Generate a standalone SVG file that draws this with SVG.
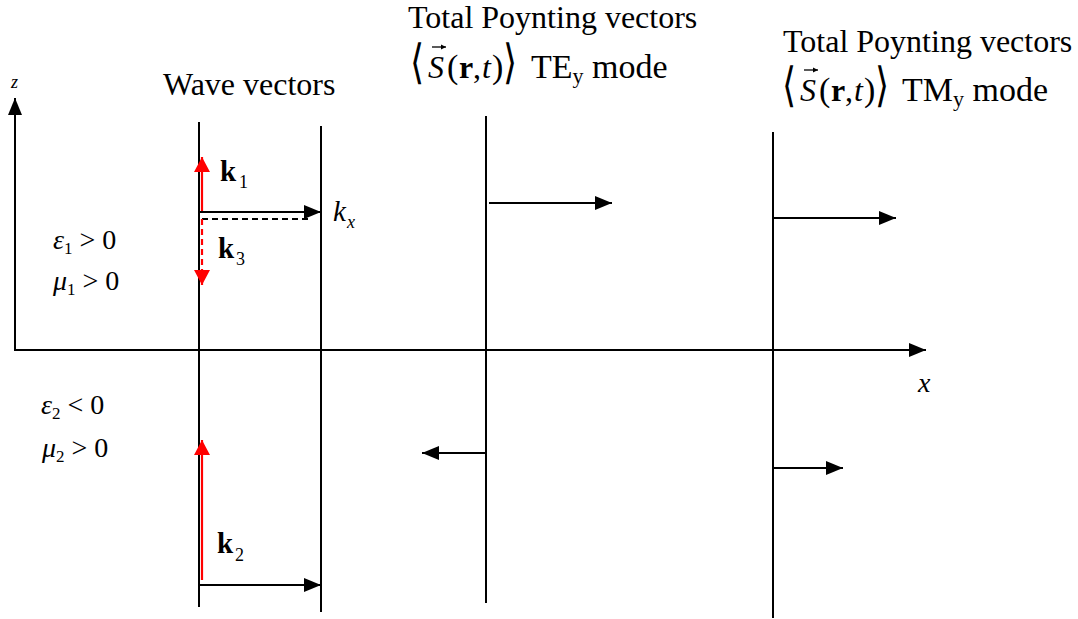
<svg xmlns="http://www.w3.org/2000/svg" width="1078" height="619" viewBox="0 0 1078 619">
<style>
.t{font-family:"Liberation Serif","Times New Roman",serif;fill:#000}
.i{font-style:italic}
.b{font-weight:bold}
.br{font-family:"DejaVu Sans",sans-serif;font-weight:200;fill:#000}
.ln{stroke:#000;stroke-width:2;fill:none}
.rd{stroke:#f00;stroke-width:2.2;fill:none}
</style>
<defs>
<marker id="ab" markerUnits="userSpaceOnUse" markerWidth="18" markerHeight="16" viewBox="0 0 18 16" refX="17" refY="8" orient="auto">
<path d="M0,1 L17,8 L0,15 Z" fill="#000"/>
</marker>
<marker id="ar" markerUnits="userSpaceOnUse" markerWidth="16" markerHeight="18" viewBox="0 0 16 18" refX="15" refY="9" orient="auto">
<path d="M0,1 L15,9 L0,17 Z" fill="#f00"/>
</marker>
<marker id="av" markerUnits="userSpaceOnUse" markerWidth="6" markerHeight="6" viewBox="0 0 6 6" refX="5" refY="3" orient="auto">
<path d="M0,0.5 L5,3 L0,5.5 Z" fill="#000"/>
</marker>
</defs>

<g id="axes">
<line class="ln" x1="15" y1="351" x2="15" y2="98" marker-end="url(#ab)"/>
<line class="ln" x1="14" y1="350" x2="926" y2="350" marker-end="url(#ab)"/>
<text class="t i" x="11" y="88" font-size="18">z</text>
<text class="t i" x="918" y="392" font-size="28">x</text>
</g>

<g id="media-labels">
<text class="t" x="53" y="249" font-size="28"><tspan class="i">ε</tspan><tspan font-size="17" dy="5">1</tspan><tspan dy="-5"> &gt; 0</tspan></text>
<text class="t" x="53" y="290" font-size="28"><tspan class="i">μ</tspan><tspan font-size="17" dy="5">1</tspan><tspan dy="-5"> &gt; 0</tspan></text>
<text class="t" x="41" y="414" font-size="28"><tspan class="i">ε</tspan><tspan font-size="17" dy="5">2</tspan><tspan dy="-5"> &lt; 0</tspan></text>
<text class="t" x="42" y="457" font-size="28"><tspan class="i">μ</tspan><tspan font-size="17" dy="5">2</tspan><tspan dy="-5"> &gt; 0</tspan></text>
</g>

<g id="wave-vectors">
<text class="t" x="163" y="95" font-size="32">Wave vectors</text>
<line class="ln" x1="199" y1="122" x2="199" y2="607"/>
<line class="ln" x1="321" y1="126" x2="321" y2="612"/>
<text class="t b" x="220" y="181" font-size="29">k</text>
<text class="t" x="239" y="188" font-size="18">1</text>
<text class="t b" x="218" y="258" font-size="29">k</text>
<text class="t" x="236" y="265" font-size="18">3</text>
<text class="t i" x="333" y="221" font-size="29">k</text>
<text class="t i" x="347" y="228" font-size="18">x</text>
<text class="t b" x="217" y="553" font-size="29">k</text>
<text class="t" x="235" y="561" font-size="18">2</text>
</g>

<g id="te-mode">
<text class="t" x="408" y="28" font-size="32">Total Poynting vectors</text>
<text class="br" font-size="36" transform="translate(410,78) scale(1,1.3)">⟨</text>
<text class="t i" x="428" y="78" font-size="32">S</text>
<line x1="432" y1="47" x2="446" y2="47" stroke="#000" stroke-width="1.3" marker-end="url(#av)"/>
<text class="t" x="447" y="78" font-size="34">(</text>
<text class="t b" x="459" y="78" font-size="32">r</text>
<text class="t" x="473" y="78" font-size="32">,</text>
<text class="t i" x="482" y="78" font-size="32">t</text>
<text class="t" x="492" y="78" font-size="34">)</text>
<text class="br" font-size="36" transform="translate(503,78) scale(1,1.3)">⟩</text>
<text class="t" x="531" y="78" font-size="34">TE<tspan font-size="22" dy="5">y</tspan><tspan dy="-5"> mode</tspan></text>
<line class="ln" x1="486" y1="116" x2="486" y2="603"/>
</g>

<g id="tm-mode">
<text class="t" x="783" y="52" font-size="32">Total Poynting vectors</text>
<text class="br" font-size="36" transform="translate(782,101) scale(1,1.3)">⟨</text>
<text class="t i" x="800" y="101" font-size="32">S</text>
<line x1="804" y1="70" x2="818" y2="70" stroke="#000" stroke-width="1.3" marker-end="url(#av)"/>
<text class="t" x="819" y="101" font-size="34">(</text>
<text class="t b" x="831" y="101" font-size="32">r</text>
<text class="t" x="845" y="101" font-size="32">,</text>
<text class="t i" x="854" y="101" font-size="32">t</text>
<text class="t" x="864" y="101" font-size="34">)</text>
<text class="br" font-size="36" transform="translate(875,101) scale(1,1.3)">⟩</text>
<text class="t" x="902" y="101" font-size="34">TM<tspan font-size="22" dy="5">y</tspan><tspan dy="-5"> mode</tspan></text>
<line class="ln" x1="773" y1="132" x2="773" y2="618"/>
</g>

<g id="connectors">
<line class="rd" x1="202" y1="212" x2="202" y2="157" marker-end="url(#ar)"/>
<line class="ln" x1="199" y1="212" x2="321" y2="212" marker-end="url(#ab)"/>
<line class="ln" x1="202" y1="219" x2="312" y2="219" stroke-dasharray="6,4"/>
<line class="rd" x1="202" y1="219" x2="202" y2="285" stroke-dasharray="6,4" marker-end="url(#ar)"/>
<line class="rd" x1="202" y1="580" x2="202" y2="440" marker-end="url(#ar)"/>
<line class="ln" x1="199" y1="585" x2="321" y2="585" marker-end="url(#ab)"/>
<line class="ln" x1="489" y1="203" x2="612" y2="203" marker-end="url(#ab)"/>
<line class="ln" x1="773" y1="218" x2="896" y2="218" marker-end="url(#ab)"/>
<line class="ln" x1="486" y1="453" x2="422" y2="453" marker-end="url(#ab)"/>
<line class="ln" x1="773" y1="468" x2="843" y2="468" marker-end="url(#ab)"/>
</g>
</svg>
